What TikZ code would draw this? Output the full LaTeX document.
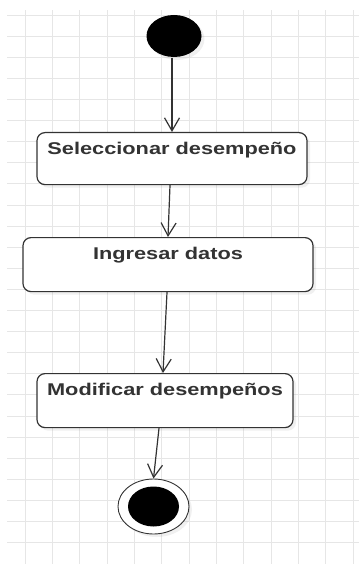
\documentclass[tikz,border=0pt]{standalone}
\usepackage{fontspec}
\newfontfamily\boxfont[FakeStretch=1.28]{Liberation Sans}
\usetikzlibrary{arrows.meta,shapes.geometric,shadows}
\definecolor{umlline}{HTML}{333333}
\definecolor{gridline}{HTML}{E6E6E6}

\begin{document}
\begin{tikzpicture}[x=1pt, y=-1pt, line width=1.2pt,
    >={Straight Barb[length=13pt,width=15pt]},
    activity/.style={draw=umlline, rounded corners=8pt, fill=white,
      inner sep=0pt, text height=22pt, text=umlline,
      font=\boxfont\bfseries\fontsize{17}{20}\selectfont,
      drop shadow={opacity=0.12, shadow xshift=3pt, shadow yshift=-3pt}},
    flow/.style={->, umlline}]
  \useasboundingbox (0,0) rectangle (359,564);
  % Background grid
  \begin{scope}
    \clip (7,10) rectangle (359,564);
    \foreach \i in {0,...,12}
      \draw[gridline, line width=0.8pt] (25+27.33*\i,10) -- (25+27.33*\i,564);
    \foreach \j in {0,...,25}
      \draw[gridline, line width=0.8pt] (7,15+21.1*\j) -- (359,15+21.1*\j);
  \end{scope}
  % Initial state
  \node[ellipse, fill=black, minimum width=55pt, minimum height=42pt,
    inner sep=0pt, drop shadow={opacity=0.12, shadow xshift=3pt, shadow yshift=-3pt}]
    (inicio) at (174,36) {};
  % Activities
  \node[activity, anchor=north, minimum width=270pt, text depth=30pt]
    (selec) at (172,132) {Seleccionar desempeño};
  \node[activity, anchor=north, minimum width=290pt, text depth=32pt]
    (ingreso) at (168,237) {Ingresar datos};
  \node[activity, anchor=north, minimum width=256pt, text depth=32pt]
    (modif) at (165,373) {Modificar desempeños};
  % Final state
  \node[ellipse, draw=umlline, line width=0.9pt, fill=white,
    minimum width=71pt, minimum height=55pt, inner sep=0pt,
    drop shadow={opacity=0.12, shadow xshift=3pt, shadow yshift=-3pt}]
    (fin) at (153.5,506.5) {};
  \node[ellipse, fill=black, minimum width=51pt, minimum height=40pt,
    inner sep=0pt] (finin) at (fin.center) {};
  % Transitions
  \draw[flow] ([xshift=-2pt]inicio.south) -- (selec.north);
  \draw[flow] ([xshift=-2pt]selec.south) -- (ingreso.north);
  \draw[flow] ([xshift=-1pt]ingreso.south) -- ([xshift=-2pt]modif.north);
  \draw[flow] ([xshift=-6pt]modif.south) -- (fin.north);
\end{tikzpicture}
\end{document}
